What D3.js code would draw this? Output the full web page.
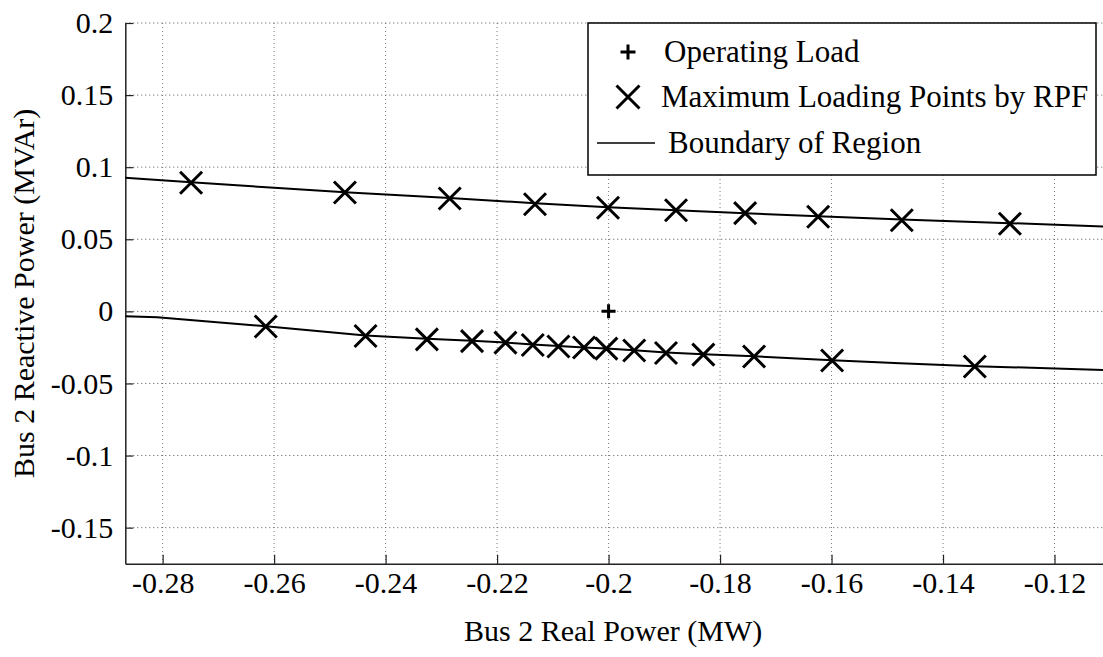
<!DOCTYPE html>
<html>
<head>
<meta charset="utf-8">
<script src="https://cdn.jsdelivr.net/npm/d3@7"></script>
</head>
<body style="margin:0">
<svg id="fig" width="1103" height="657"></svg>
<script>
// Operating point of bus 2
const operatingP = [-0.2];
const operatingQ = [0];

// Maximum loading points found by repeated power flow (upper branch)
const upperP = [-0.2749, -0.2473, -0.2285, -0.2132, -0.2001, -0.1879, -0.1755, -0.1624, -0.1474, -0.1280];
const upperQ = [0.0892, 0.0824, 0.0783, 0.0743, 0.0719, 0.0701, 0.0681, 0.0656, 0.0632, 0.0608];

// Maximum loading points found by repeated power flow (lower branch)
const lowerP = [-0.2615, -0.2436, -0.2326, -0.2245, -0.2185, -0.2136, -0.2090, -0.2044, -0.2004,
                -0.1954, -0.1897, -0.1830, -0.1739, -0.1599, -0.1343];
const lowerQ = [-0.0105, -0.0171, -0.0194, -0.0206, -0.0217, -0.0233, -0.0244, -0.0251, -0.0258,
                -0.0271, -0.0289, -0.0300, -0.0313, -0.0341, -0.0382];

// Boundary of the loadability region
const boundUpperP = [-0.2868, -0.2749, -0.2600, -0.2473, -0.2285, -0.2132, -0.2001, -0.1879, -0.1755, -0.1624, -0.1474, -0.1280, -0.1113];
const boundUpperQ = [0.0927, 0.0895, 0.0857, 0.0827, 0.0787, 0.0750, 0.0722, 0.0702, 0.0681, 0.0659, 0.0637, 0.0612, 0.0588];
const boundLowerP = [-0.2868, -0.2810, -0.2615, -0.2436, -0.2326, -0.2245, -0.2185, -0.2136, -0.2090, -0.2044,
                     -0.2004, -0.1954, -0.1897, -0.1830, -0.1739, -0.1599, -0.1477, -0.1343, -0.1113];
const boundLowerQ = [-0.0033, -0.0040, -0.0104, -0.0168, -0.0190, -0.0204, -0.0216, -0.0230, -0.0241, -0.0250,
                     -0.0257, -0.0270, -0.0285, -0.0297, -0.0312, -0.0339, -0.0360, -0.0380, -0.0406];

// Axis ticks
const xTickValues = [-0.28, -0.26, -0.24, -0.22, -0.2, -0.18, -0.16, -0.14, -0.12];
const xTickLabels = ["-0.28", "-0.26", "-0.24", "-0.22", "-0.2", "-0.18", "-0.16", "-0.14", "-0.12"];
const yTickValues = [-0.15, -0.1, -0.05, 0, 0.05, 0.1, 0.15, 0.2];
const yTickLabels = ["-0.15", "-0.1", "-0.05", "0", "0.05", "0.1", "0.15", "0.2"];

const legendLabels = ["Operating Load", "Maximum Loading Points by RPF", "Boundary of Region"];

const FONT = '"Liberation Serif", Tinos, "Times New Roman", monospace';

const svg = d3.select("#fig");
const margin = { left: 125.3, top: 23, right: 0, bottom: 93.3 };
const W = 1103, H = 657;
const plotW = W - margin.left - margin.right;
const plotH = H - margin.top - margin.bottom;

const x = d3.scaleLinear().domain([-0.2867, -0.1113]).range([0, plotW]);
const y = d3.scaleLinear().domain([-0.175, 0.2]).range([plotH, 0]);

// Text styling: serif face
const label = (sel, size) => sel
  .attr("font-family", FONT).attr("font-size", size || 30)
  .style("font-family", FONT, "important")
  .style("font-size", `${size || 30}px`, "important")
  .style("fill", "#000");

const g = svg.append("g").attr("transform", `translate(${margin.left},${margin.top})`);

g.append("clipPath").attr("id", "plotClip")
  .append("rect").attr("x", 0).attr("y", -2).attr("width", plotW).attr("height", plotH + 2);

// Dotted grid
const grid = g.append("g");
grid.selectAll("line.vgrid").data(xTickValues).join("line")
  .attr("x1", d => x(d)).attr("x2", d => x(d))
  .attr("y1", 0).attr("y2", plotH)
  .attr("stroke", "#7a7a7a").attr("stroke-width", 1).attr("stroke-dasharray", "1,3");
grid.selectAll("line.hgrid").data(yTickValues).join("line")
  .attr("x1", 0).attr("x2", plotW)
  .attr("y1", d => y(d)).attr("y2", d => y(d))
  .attr("stroke", "#555").attr("stroke-width", 1).attr("stroke-dasharray", "1,3");

// Axes with inward ticks
const xAxis = d3.axisBottom(x).tickValues(xTickValues)
  .tickFormat((d, i) => xTickLabels[i]).tickSizeInner(-9).tickSizeOuter(0).tickPadding(8);
const yAxis = d3.axisLeft(y).tickValues(yTickValues)
  .tickFormat((d, i) => yTickLabels[i]).tickSizeInner(-8).tickSizeOuter(0).tickPadding(12);

const gx = g.append("g").attr("transform", `translate(0,${plotH})`).call(xAxis);
const gy = g.append("g").call(yAxis);

[gx, gy].forEach(a => {
  a.attr("font-family", FONT).attr("font-size", 30);
  a.select(".domain").attr("stroke", "#222").attr("stroke-width", 1.5);
  a.selectAll(".tick line").attr("stroke", "#222").attr("stroke-width", 1.2);
  label(a.selectAll(".tick text"));
});
gx.selectAll(".tick text").attr("dy", null).attr("y", 29);

// Boundary curves
const line = d3.line().x(d => x(d[0])).y(d => y(d[1]));
const curves = g.append("g").attr("clip-path", "url(#plotClip)");
[[boundUpperP, boundUpperQ], [boundLowerP, boundLowerQ]].forEach(([P, Q]) => {
  curves.append("path")
    .datum(P.map((p, i) => [p, Q[i]]))
    .attr("d", line)
    .attr("fill", "none").attr("stroke", "#000").attr("stroke-width", 2);
});

// Marker shapes
const crossPath = s => `M${-s},${-s}L${s},${s}M${-s},${s}L${s},${-s}`;
const plusPath = s => `M${-s},0L${s},0M0,${-s}L0,${s}`;

const pts = upperP.map((p, i) => [p, upperQ[i]]).concat(lowerP.map((p, i) => [p, lowerQ[i]]));
g.append("g").selectAll("path").data(pts).join("path")
  .attr("transform", d => `translate(${x(d[0])},${y(d[1])})`)
  .attr("d", crossPath(11))
  .attr("fill", "none").attr("stroke", "#000").attr("stroke-width", 3);

g.append("g").selectAll("path").data(operatingP.map((p, i) => [p, operatingQ[i]])).join("path")
  .attr("transform", d => `translate(${x(d[0])},${y(d[1])})`)
  .attr("d", plusPath(7))
  .attr("fill", "none").attr("stroke", "#000").attr("stroke-width", 3);

// Axis titles
label(svg.append("text")
  .attr("x", margin.left + (1101 - margin.left) / 2).attr("y", 641)
  .attr("text-anchor", "middle"))
  .text("Bus 2 Real Power (MW)");
label(svg.append("text")
  .attr("transform", `translate(33.5,${margin.top + plotH / 2}) rotate(-90)`)
  .attr("text-anchor", "middle"))
  .text("Bus 2 Reactive Power (MVAr)");

// Legend
const lg = svg.append("g").attr("transform", "translate(588,23)");
lg.append("rect").attr("x", 0).attr("y", 0).attr("width", 508).attr("height", 152)
  .attr("fill", "#fff").attr("stroke", "#000").attr("stroke-width", 1.5);
const rowY = [29, 74, 120];
lg.append("path").attr("transform", `translate(40,${rowY[0]})`).attr("d", plusPath(7.5))
  .attr("stroke", "#000").attr("stroke-width", 3).attr("fill", "none");
lg.append("path").attr("transform", `translate(40,${rowY[1]})`).attr("d", crossPath(11.5))
  .attr("stroke", "#000").attr("stroke-width", 3).attr("fill", "none");
lg.append("line").attr("x1", 9).attr("x2", 67).attr("y1", rowY[2]).attr("y2", rowY[2])
  .attr("stroke", "#000").attr("stroke-width", 1.5);
const textX = [76, 73, 80];
label(lg.selectAll("text.lbl").data(legendLabels).join("text")
  .attr("x", (d, i) => textX[i]).attr("y", (d, i) => rowY[i] + 10), 31)
  .text(d => d);
</script>
</body>
</html>
